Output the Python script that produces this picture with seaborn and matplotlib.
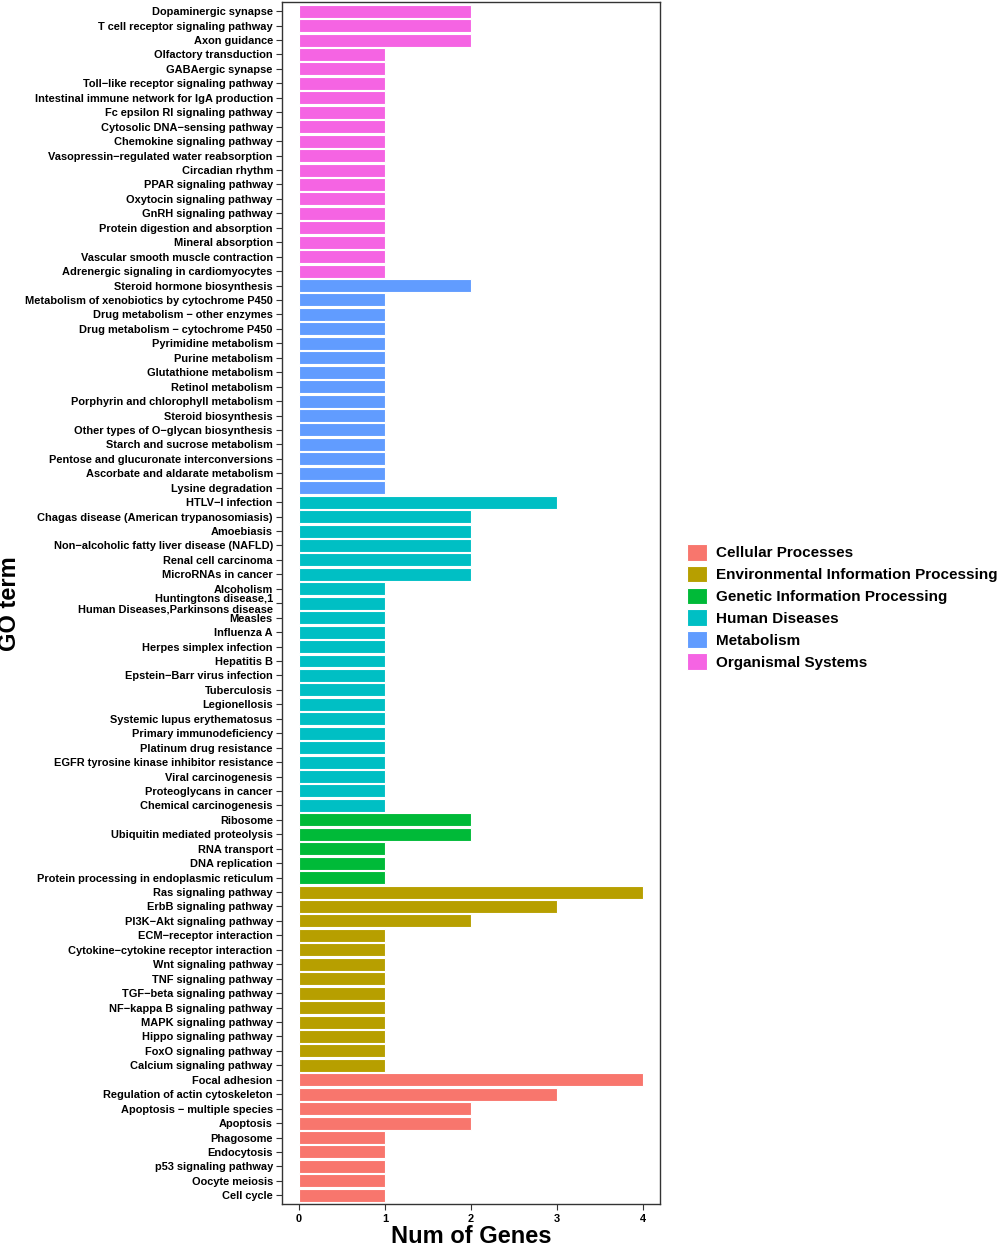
import matplotlib
matplotlib.use("Agg")
import matplotlib.pyplot as plt
from matplotlib.patches import Patch
import numpy as np
import pandas as pd
import seaborn as sns

# pathway terms, top to bottom, with their gene counts
organismal_terms = ["Dopaminergic synapse", "T cell receptor signaling pathway", "Axon guidance",
                    "Olfactory transduction", "GABAergic synapse", "Toll−like receptor signaling pathway",
                    "Intestinal immune network for IgA production", "Fc epsilon RI signaling pathway",
                    "Cytosolic DNA−sensing pathway", "Chemokine signaling pathway",
                    "Vasopressin−regulated water reabsorption", "Circadian rhythm", "PPAR signaling pathway",
                    "Oxytocin signaling pathway", "GnRH signaling pathway", "Protein digestion and absorption",
                    "Mineral absorption", "Vascular smooth muscle contraction",
                    "Adrenergic signaling in cardiomyocytes"]
organismal_counts = [2, 2, 2] + [1] * 16

metabolism_terms = ["Steroid hormone biosynthesis", "Metabolism of xenobiotics by cytochrome P450",
                    "Drug metabolism − other enzymes", "Drug metabolism − cytochrome P450",
                    "Pyrimidine metabolism", "Purine metabolism", "Glutathione metabolism", "Retinol metabolism",
                    "Porphyrin and chlorophyll metabolism", "Steroid biosynthesis",
                    "Other types of O−glycan biosynthesis", "Starch and sucrose metabolism",
                    "Pentose and glucuronate interconversions", "Ascorbate and aldarate metabolism",
                    "Lysine degradation"]
metabolism_counts = [2] + [1] * 14

disease_terms = ["HTLV−I infection", "Chagas disease (American trypanosomiasis)", "Amoebiasis",
                 "Non−alcoholic fatty liver disease (NAFLD)", "Renal cell carcinoma", "MicroRNAs in cancer",
                 "Alcoholism", "Huntingtons disease,1\nHuman Diseases,Parkinsons disease", "Measles",
                 "Influenza A", "Herpes simplex infection", "Hepatitis B", "Epstein−Barr virus infection",
                 "Tuberculosis", "Legionellosis", "Systemic lupus erythematosus", "Primary immunodeficiency",
                 "Platinum drug resistance", "EGFR tyrosine kinase inhibitor resistance",
                 "Viral carcinogenesis", "Proteoglycans in cancer", "Chemical carcinogenesis"]
disease_counts = [3, 2, 2, 2, 2, 2] + [1] * 16

genetic_terms = ["Ribosome", "Ubiquitin mediated proteolysis", "RNA transport", "DNA replication",
                 "Protein processing in endoplasmic reticulum"]
genetic_counts = [2, 2, 1, 1, 1]

environmental_terms = ["Ras signaling pathway", "ErbB signaling pathway", "PI3K−Akt signaling pathway",
                       "ECM−receptor interaction", "Cytokine−cytokine receptor interaction",
                       "Wnt signaling pathway", "TNF signaling pathway", "TGF−beta signaling pathway",
                       "NF−kappa B signaling pathway", "MAPK signaling pathway", "Hippo signaling pathway",
                       "FoxO signaling pathway", "Calcium signaling pathway"]
environmental_counts = [4, 3, 2] + [1] * 10

cellular_terms = ["Focal adhesion", "Regulation of actin cytoskeleton", "Apoptosis − multiple species",
                  "Apoptosis", "Phagosome", "Endocytosis", "p53 signaling pathway", "Oocyte meiosis",
                  "Cell cycle"]
cellular_counts = [4, 3, 2, 2, 1, 1, 1, 1, 1]

categories = ["Cellular Processes", "Environmental Information Processing", "Genetic Information Processing",
              "Human Diseases", "Metabolism", "Organismal Systems"]
colors = ["#F8766D", "#B79F00", "#00BA38", "#00BFC4", "#619CFF", "#F564E3"]

groups = [
    ("Organismal Systems", organismal_terms, organismal_counts),
    ("Metabolism", metabolism_terms, metabolism_counts),
    ("Human Diseases", disease_terms, disease_counts),
    ("Genetic Information Processing", genetic_terms, genetic_counts),
    ("Environmental Information Processing", environmental_terms, environmental_counts),
    ("Cellular Processes", cellular_terms, cellular_counts),
]
df = pd.concat([pd.DataFrame({"term": t, "count": c, "category": g}) for g, t, c in groups],
               ignore_index=True)

sns.set_style("white")
plt.rcParams['font.family'] = ['Liberation Sans', 'DejaVu Sans']
plt.rcParams['text.color'] = 'black'
plt.rcParams['axes.labelcolor'] = 'black'
plt.rcParams['xtick.color'] = 'black'
plt.rcParams['ytick.color'] = 'black'

fig = plt.figure(figsize=(10.03, 12.47), dpi=100)
ax = fig.add_axes([0.281, 0.0345, 0.377, 0.9635])

sns.barplot(data=df, y="term", x="count", hue="category", order=list(df["term"]),
            hue_order=categories, palette=colors, dodge=False, orient="h",
            width=0.9, saturation=1, linewidth=0.8, edgecolor="white", legend=False, ax=ax)

ax.set_xlim(-0.2, 4.2)
ax.set_ylim(len(df) - 0.4, -0.6)
ax.set_xticks([0, 1, 2, 3, 4])
ax.tick_params(axis="y", labelsize=7.9, length=4, width=0.8, color="#333333", pad=2.5, left=True)
ax.tick_params(axis="x", labelsize=7.9, length=4, width=0.8, color="#333333", pad=3, bottom=True)
for lab in ax.get_yticklabels() + ax.get_xticklabels():
    lab.set_fontweight("bold")
    lab.set_linespacing(1.0)
for sp in ax.spines.values():
    sp.set_color("#333333")
    sp.set_linewidth(1.0)

ax.set_xlabel("Num of Genes", fontsize=17, fontweight="bold", labelpad=1)
ax.set_ylabel("GO term", fontsize=17, fontweight="bold")
ax.yaxis.set_label_coords(-0.69, 0.5)

handles = [Patch(facecolor=c, edgecolor="white", linewidth=0.8, label=k) for k, c in zip(categories, colors)]
leg = ax.legend(handles=handles, loc="center left", bbox_to_anchor=(1.055, 0.497), frameon=False,
                prop={"size": 11, "weight": "bold"}, handlelength=1.3, handleheight=1.3,
                handletextpad=0.6, labelspacing=0.34, borderaxespad=0)

fig.savefig("out.png", dpi=100)
